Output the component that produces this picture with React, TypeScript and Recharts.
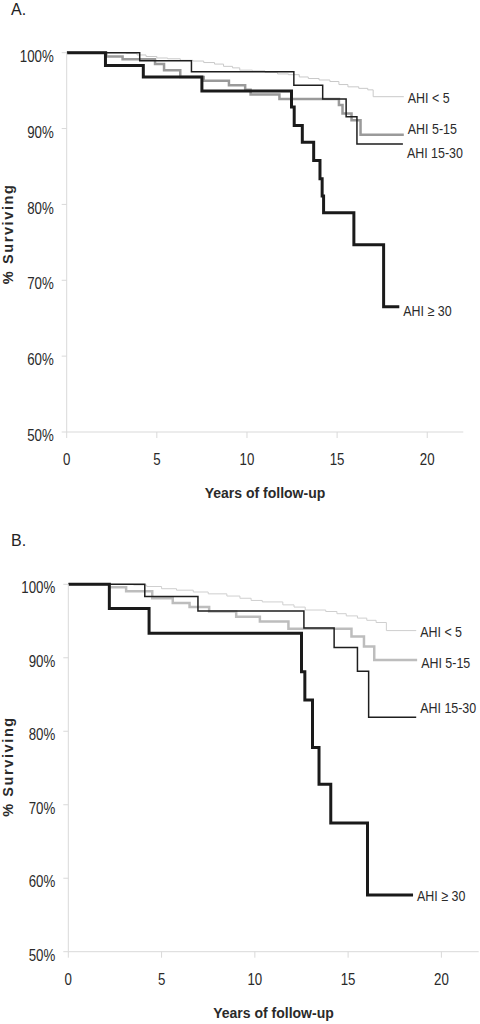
import { LineChart, Line, XAxis, YAxis, LabelList } from 'recharts'

// Kaplan-Meier curves: [years, % surviving]
const A_AHI_LT5 = [
  [0, 100], [3.3, 99.9], [3.9, 99.7], [4.4, 99.5], [5.0, 99.3], [5.6, 99.2], [6.3, 99.0],
  [7.0, 98.9], [7.6, 98.7], [8.2, 98.5], [8.7, 98.2], [9.2, 98.0], [9.6, 97.7], [10.3, 97.6],
  [11.0, 97.4], [11.7, 97.2], [12.3, 97.1], [12.9, 96.8], [13.4, 96.6], [14.0, 96.4],
  [14.6, 96.2], [15.1, 95.8], [15.6, 95.5], [16.2, 95.3], [16.7, 95.1], [17.0, 94.2], [18.7, 94.2],
]
const A_AHI_5_15 = [
  [0, 100], [2.2, 99.5], [3.1, 99.15], [4.9, 98.5], [5.4, 97.7], [6.3, 96.8], [7.6, 96.3],
  [9.0, 95.7], [9.9, 95.1], [10.2, 94.5], [11.8, 93.9], [15.1, 93.1], [15.3, 92.0],
  [15.8, 91.1], [16.3, 89.2], [18.7, 89.2],
]
const A_AHI_15_30 = [
  [0, 100], [4.05, 98.95], [6.92, 97.5], [12.6, 95.7], [14.2, 93.9], [15.5, 91.55],
  [16.1, 87.95], [18.65, 87.95],
]
const A_AHI_GE30 = [
  [0, 100], [2.15, 98.3], [4.25, 96.8], [7.5, 94.95], [12.47, 92.85], [12.62, 90.4],
  [13.07, 88.2], [13.7, 85.8], [14.05, 83.4], [14.17, 81.1], [14.25, 78.9], [15.93, 74.7],
  [17.58, 66.5], [18.45, 66.5],
]

const B_AHI_LT5 = [
  [0, 100], [3.5, 99.9], [4.2, 99.7], [5.0, 99.4], [5.8, 99.2], [6.7, 98.95], [7.5, 98.7],
  [8.5, 98.4], [9.2, 98.1], [9.8, 97.8], [10.4, 97.6], [11.5, 97.2], [12.1, 96.9],
  [12.7, 96.5], [13.8, 96.3], [14.4, 96.0], [14.9, 95.7], [15.5, 95.4], [16.0, 95.1],
  [16.5, 94.8], [17.05, 93.7], [18.65, 93.7],
]
const B_AHI_5_15 = [
  [0, 100], [2.2, 99.6], [3.1, 99.05], [4.5, 98.1], [5.6, 97.45], [6.5, 96.9], [7.55, 96.3],
  [9.0, 95.6], [10.27, 94.95], [11.8, 93.95], [15.18, 92.9], [15.85, 91.55], [16.4, 89.7],
  [18.7, 89.7],
]
const B_AHI_15_30 = [
  [0, 100], [4.1, 98.35], [6.95, 96.35], [12.63, 94.05], [14.25, 91.4], [15.5, 88.15],
  [16.1, 81.9], [18.65, 81.9],
]
const B_AHI_GE30 = [
  [0, 100], [2.2, 96.7], [4.33, 93.35], [12.5, 88.1], [12.68, 84.25], [13.09, 77.8],
  [13.44, 72.8], [14.07, 67.5], [16.04, 57.7], [18.48, 57.7],
]

const GROUPS = ['AHI < 5', 'AHI 5-15', 'AHI 15-30', 'AHI \u2265 30']
const X_TICKS = [0, 5, 10, 15, 20]
const Y_TICKS = [50, 60, 70, 80, 90, 100]

const SANS = "'Liberation Sans', Arial, sans-serif"
const NARROW_SCALE = 0.83 // no Arial Narrow installed, squeeze Liberation Sans instead
const AXIS_GRAY = '#d9d9d9'
const TEXT = '#2a2a2a'

const toPoints = (arr: number[][]) => arr.map(([t, s]) => ({ t, s }))

const panels = [
  {
    name: 'A.',
    top: 0,
    height: 510,
    margin: { top: 52.7, right: 16.7, bottom: 8, left: 0 },
    yWidth: 66.7,
    yTitleShift: -8.5,
    series: [A_AHI_LT5, A_AHI_5_15, A_AHI_15_30, A_AHI_GE30],
    colors: ['#c9c9c9', '#9a9a9a', '#1e1e1e', '#1a1a1a'],
    widths: [1, 2.5, 1.5, 3],
    labelDy: [1, -6, 9, 4],
  },
  {
    name: 'B.',
    top: 510,
    height: 514,
    margin: { top: 74.3, right: 1.3, bottom: 2.3, left: 0 },
    yWidth: 68.3,
    yTitleShift: -1.5,
    series: [B_AHI_LT5, B_AHI_5_15, B_AHI_15_30, B_AHI_GE30],
    colors: ['#cfcfcf', '#bdbdbd', '#1e1e1e', '#1a1a1a'],
    widths: [1, 2.5, 1.5, 3],
    labelDy: [1, 3, -10, 1],
  },
]

const XTick = (props: any) => (
  <g transform={`translate(${props.x},${props.y})`}>
    <text transform={`scale(${NARROW_SCALE},1)`} textAnchor="middle" dy="0.71em" fill={TEXT} fontSize={16} fontFamily={SANS}>
      {props.payload.value}
    </text>
  </g>
)

const YTick = (props: any) => (
  <g transform={`translate(${props.x},${props.y + 3.5})`}>
    <text transform={`scale(${NARROW_SCALE},1)`} textAnchor="end" dy="0.355em" fill={TEXT} fontSize={16} fontFamily={SANS}>
      {`${props.payload.value}%`}
    </text>
  </g>
)

function Panel({ p }: { p: (typeof panels)[number] }) {
  return (
    <div style={{ position: 'absolute', left: 0, top: p.top, width: 480, height: p.height }}>
      <div
        style={{
          position: 'absolute',
          left: 11,
          top: p.top === 0 ? 1 : 22,
          fontFamily: SANS,
          fontSize: 16,
          color: '#222',
        }}
      >
        {p.name}
      </div>
      <LineChart width={480} height={p.height} margin={p.margin} style={{ overflow: 'visible' }}>
        <XAxis
          dataKey="t"
          type="number"
          domain={[0, 22]}
          ticks={X_TICKS}
          allowDataOverflow
          height={70}
          tickSize={6}
          tickMargin={16}
          axisLine={{ stroke: AXIS_GRAY }}
          tickLine={{ stroke: AXIS_GRAY }}
          tick={XTick}
          label={{
            value: 'Years of follow-up',
            position: 'insideBottom',
            offset: 4,
            style: { fill: TEXT, fontSize: 14, fontWeight: 'bold', fontFamily: SANS },
          }}
        />
        <YAxis
          type="number"
          domain={[50, 100]}
          ticks={Y_TICKS}
          width={p.yWidth}
          tickSize={5}
          tickMargin={8}
          axisLine={{ stroke: AXIS_GRAY }}
          tickLine={{ stroke: AXIS_GRAY }}
          tick={YTick}
          label={{
            content: (props: any) => {
              const vb = props.viewBox || {}
              const cy = vb.y + vb.height / 2 + p.yTitleShift
              return (
                <text
                  transform={`translate(12.5, ${cy}) rotate(-90)`}
                  textAnchor="middle"
                  fill={TEXT}
                  fontSize={14.5}
                  fontWeight="bold"
                  letterSpacing={1.6}
                  fontFamily={SANS}
                >
                  % Surviving
                </text>
              )
            },
          }}
        />
        {p.series.map((arr, i) => {
          const pts = toPoints(arr)
          return (
            <Line
              key={GROUPS[i]}
              data={pts}
              dataKey="s"
              type="stepAfter"
              stroke={p.colors[i]}
              strokeWidth={p.widths[i]}
              dot={false}
              activeDot={false}
              isAnimationActive={false}
            >
              <LabelList
                dataKey="s"
                content={(props: any) => {
                  if (props.index !== pts.length - 1) return null
                  return (
                    <g transform={`translate(${props.x + 4},${props.y + p.labelDy[i]})`}>
                      <text
                        transform={`scale(${NARROW_SCALE},1)`}
                        dy="0.35em"
                        fill={TEXT}
                        fontSize={15}
                        fontFamily={SANS}
                      >
                        {GROUPS[i]}
                      </text>
                    </g>
                  )
                }}
              />
            </Line>
          )
        })}
      </LineChart>
    </div>
  )
}

export default function App() {
  return (
    <div style={{ position: 'absolute', left: 0, top: 0, width: 480, height: 1024, background: '#fff' }}>
      {panels.map((p) => (
        <Panel key={p.name} p={p} />
      ))}
    </div>
  )
}
